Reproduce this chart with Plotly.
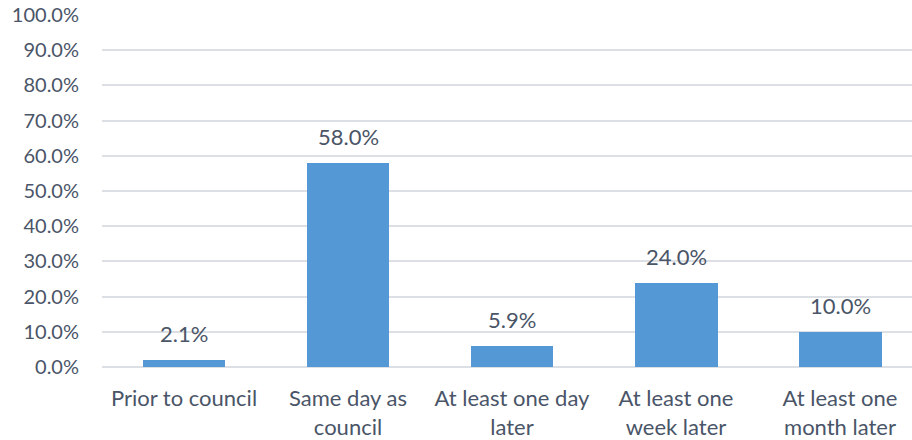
import plotly.graph_objects as go

categories = ["Prior to council", "Same day as<br>council", "At least one day<br>later",
              "At least one<br>week later", "At least one<br>month later"]
values = [0.021, 0.58, 0.059, 0.24, 0.10]
labels = ["2.1%", "58.0%", "5.9%", "24.0%", "10.0%"]

text_color = "#4a5568"
font_family = "Lato, 'Open Sans', sans-serif"

fig = go.Figure()
fig.add_trace(go.Bar(
    x=list(range(len(categories))),
    y=values,
    width=0.506,
    marker=dict(color="#5598d6", line=dict(width=0)),
    hoverinfo="skip",
))

for i, (v, t) in enumerate(zip(values, labels)):
    fig.add_annotation(x=i, y=v, text=t, showarrow=False, yanchor="bottom",
                       yshift=11, font=dict(size=22, color=text_color, family=font_family))

fig.update_layout(
    width=912, height=440,
    margin=dict(l=102, r=0, t=15, b=71),
    paper_bgcolor="white", plot_bgcolor="white",
    showlegend=False,
    font=dict(family=font_family, size=20, color=text_color),
    bargap=0,
)
fig.update_xaxes(
    tickmode="array", tickvals=list(range(len(categories))), ticktext=categories,
    range=[-0.5, 4.439], showgrid=False, zeroline=False, showline=False,
    ticks="", ticklabelstandoff=16, tickfont=dict(size=22, color=text_color),
)
fig.update_yaxes(
    range=[0, 1], dtick=0.1, tickformat=".1%", showgrid=True,
    gridcolor="#dcdfe3", gridwidth=2, zeroline=True, zerolinecolor="#dcdfe3",
    zerolinewidth=2, showline=False, ticks="", ticklabelstandoff=22,
    tickfont=dict(size=20, color=text_color),
)
fig.write_html("out.html")
